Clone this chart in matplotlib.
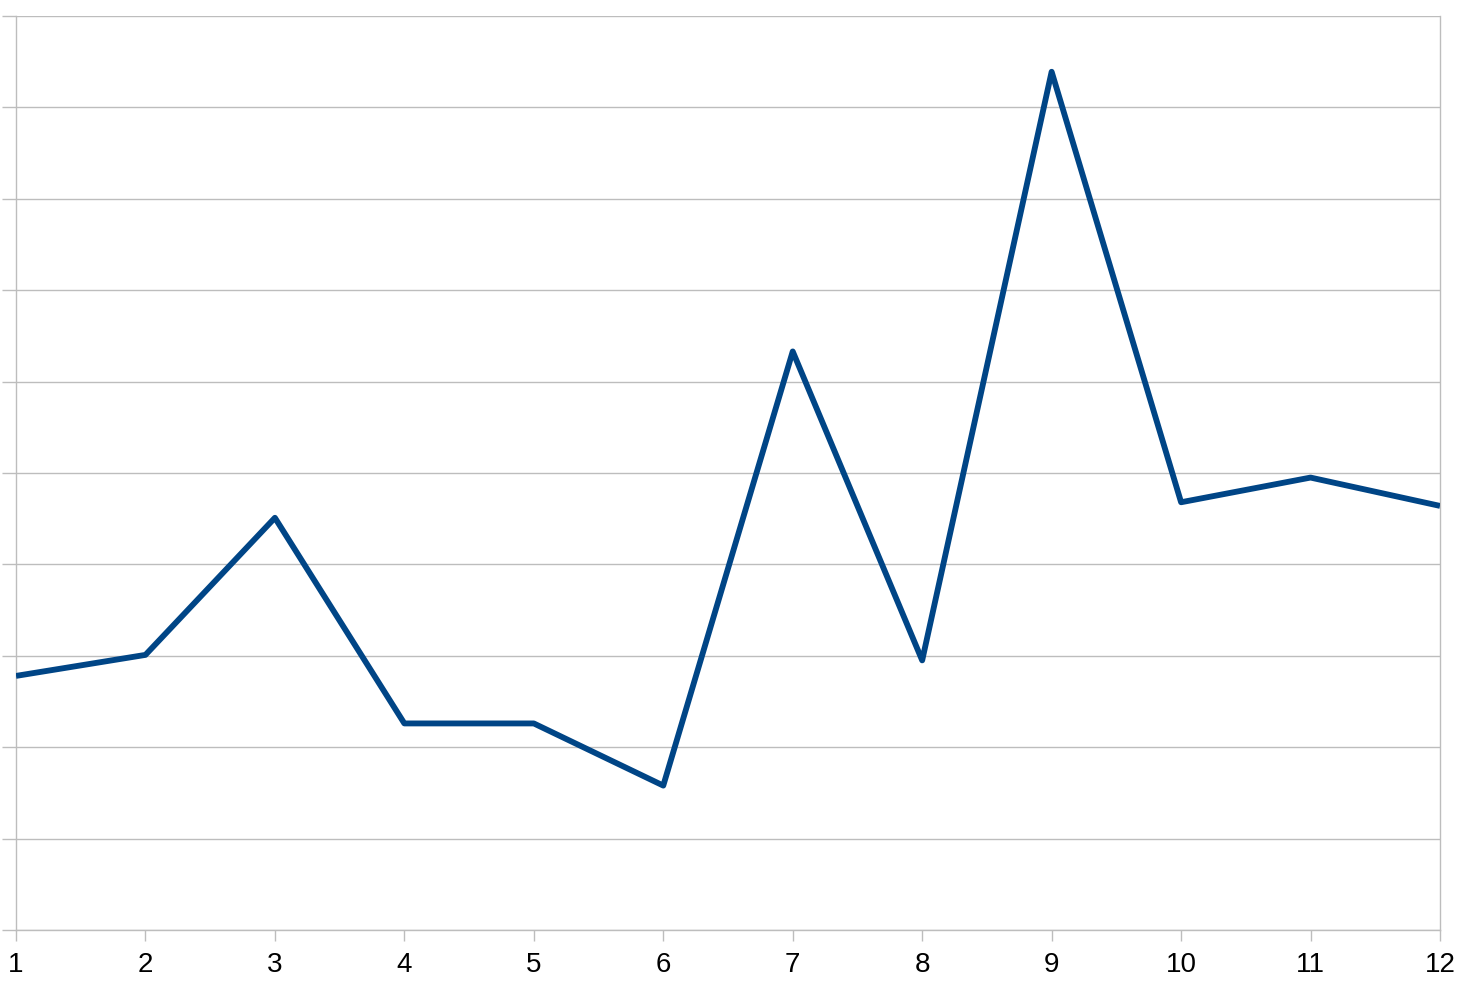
import matplotlib.pyplot as plt
import numpy as np

# values (no y labels shown, scale 0-10)
months = [1, 2, 3, 4, 5, 6, 7, 8, 9, 10, 11, 12]
values = [2.78, 3.01, 4.51, 2.26, 2.26, 1.58, 6.33, 2.95, 9.39, 4.68, 4.95, 4.64]

plt.rcParams['font.family'] = ['Liberation Sans', 'DejaVu Sans']

fig = plt.figure(figsize=(14.72, 9.92), dpi=100)
ax = fig.add_axes([16 / 1472, 1 - 930 / 992, (1440 - 16) / 1472, (930 - 16) / 992])

grid_col = '#bdbdbd'
ax.plot(months, values, color='#004586', linewidth=4.2, solid_joinstyle='round',
        solid_capstyle='butt', zorder=3)

ax.set_xlim(1, 12)
ax.set_ylim(0, 10)
ax.set_xticks(months)
ax.set_xticklabels([str(m) for m in months], fontsize=20)
ax.set_yticks(np.arange(0, 11, 1))
ax.set_yticklabels([])
ax.grid(axis='y', color=grid_col, linewidth=1)
ax.set_axisbelow(True)

for side in ['left', 'bottom', 'right']:
    ax.spines[side].set_color(grid_col)
    ax.spines[side].set_linewidth(1)
ax.spines['top'].set_visible(False)

ax.tick_params(axis='x', length=8, width=1, color=grid_col, pad=8)
ax.tick_params(axis='y', length=10, width=1, color=grid_col)

fig.savefig('out.png', dpi=100)
